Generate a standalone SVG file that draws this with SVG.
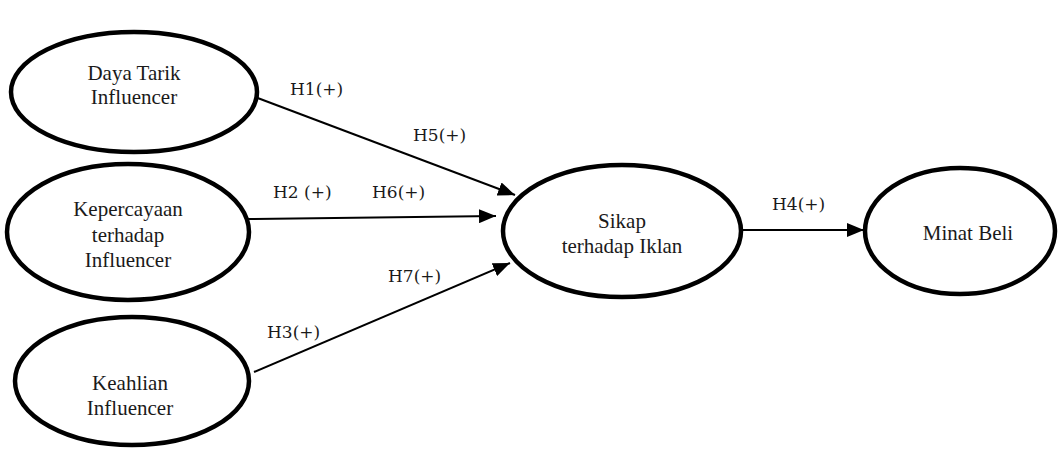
<svg xmlns="http://www.w3.org/2000/svg" width="1060" height="451" viewBox="0 0 1060 451">
<style>
.node ellipse{fill:#fff;stroke:#000;stroke-width:4.5}
.node text{font-family:'Liberation Serif','Times New Roman',Tinos,serif;font-size:21px;fill:#1a1a1a;text-anchor:middle}
.edge line{stroke:#000;stroke-width:2}
.lbl{font-family:'DejaVu Serif','Liberation Serif',serif;font-size:17px;fill:#1a1a1a}
</style>
<defs>
<marker id="ah" viewBox="0 0 10 10" refX="10" refY="5" markerWidth="17" markerHeight="14" markerUnits="userSpaceOnUse" orient="auto" preserveAspectRatio="none">
<path d="M0,0 L10,5 L0,10 z" fill="#000"/>
</marker>
</defs>
<rect width="1060" height="451" fill="#fff"/>
<g id="connectors" class="edge">
<line x1="255" y1="97" x2="515" y2="195" marker-end="url(#ah)"/>
<line x1="248" y1="219" x2="496" y2="216" marker-end="url(#ah)"/>
<line x1="254" y1="372" x2="510" y2="263" marker-end="url(#ah)"/>
<line x1="742" y1="230" x2="864" y2="230" marker-end="url(#ah)"/>
</g>
<g id="labels">
<text class="lbl" x="290" y="95">H1(+)</text>
<text class="lbl" x="413" y="141">H5(+)</text>
<text class="lbl" x="273" y="198">H2 (+)</text>
<text class="lbl" x="372" y="198">H6(+)</text>
<text class="lbl" x="388" y="282">H7(+)</text>
<text class="lbl" x="267" y="338">H3(+)</text>
<text class="lbl" x="772" y="210">H4(+)</text>
</g>
<g id="n1" class="node" font-family="Liberation Serif, serif">
<ellipse cx="134" cy="92" rx="123" ry="60"/>
<text x="134" y="80">Daya Tarik</text>
<text x="134" y="104">Influencer</text>
</g>
<g id="n2" class="node" font-family="Liberation Serif, serif">
<ellipse cx="128" cy="232" rx="121" ry="68"/>
<text x="128" y="216">Kepercayaan</text>
<text x="128" y="242">terhadap</text>
<text x="128" y="267">Influencer</text>
</g>
<g id="n3" class="node" font-family="Liberation Serif, serif">
<ellipse cx="132" cy="381" rx="117" ry="64"/>
<text x="130" y="390">Keahlian</text>
<text x="130" y="415">Influencer</text>
</g>
<g id="n4" class="node" font-family="Liberation Serif, serif">
<ellipse cx="622" cy="231" rx="119" ry="66"/>
<text x="622" y="228">Sikap</text>
<text x="622" y="253">terhadap Iklan</text>
</g>
<g id="n5" class="node" font-family="Liberation Serif, serif">
<ellipse cx="960" cy="231" rx="95" ry="63"/>
<text x="968" y="240">Minat Beli</text>
</g>
</svg>
